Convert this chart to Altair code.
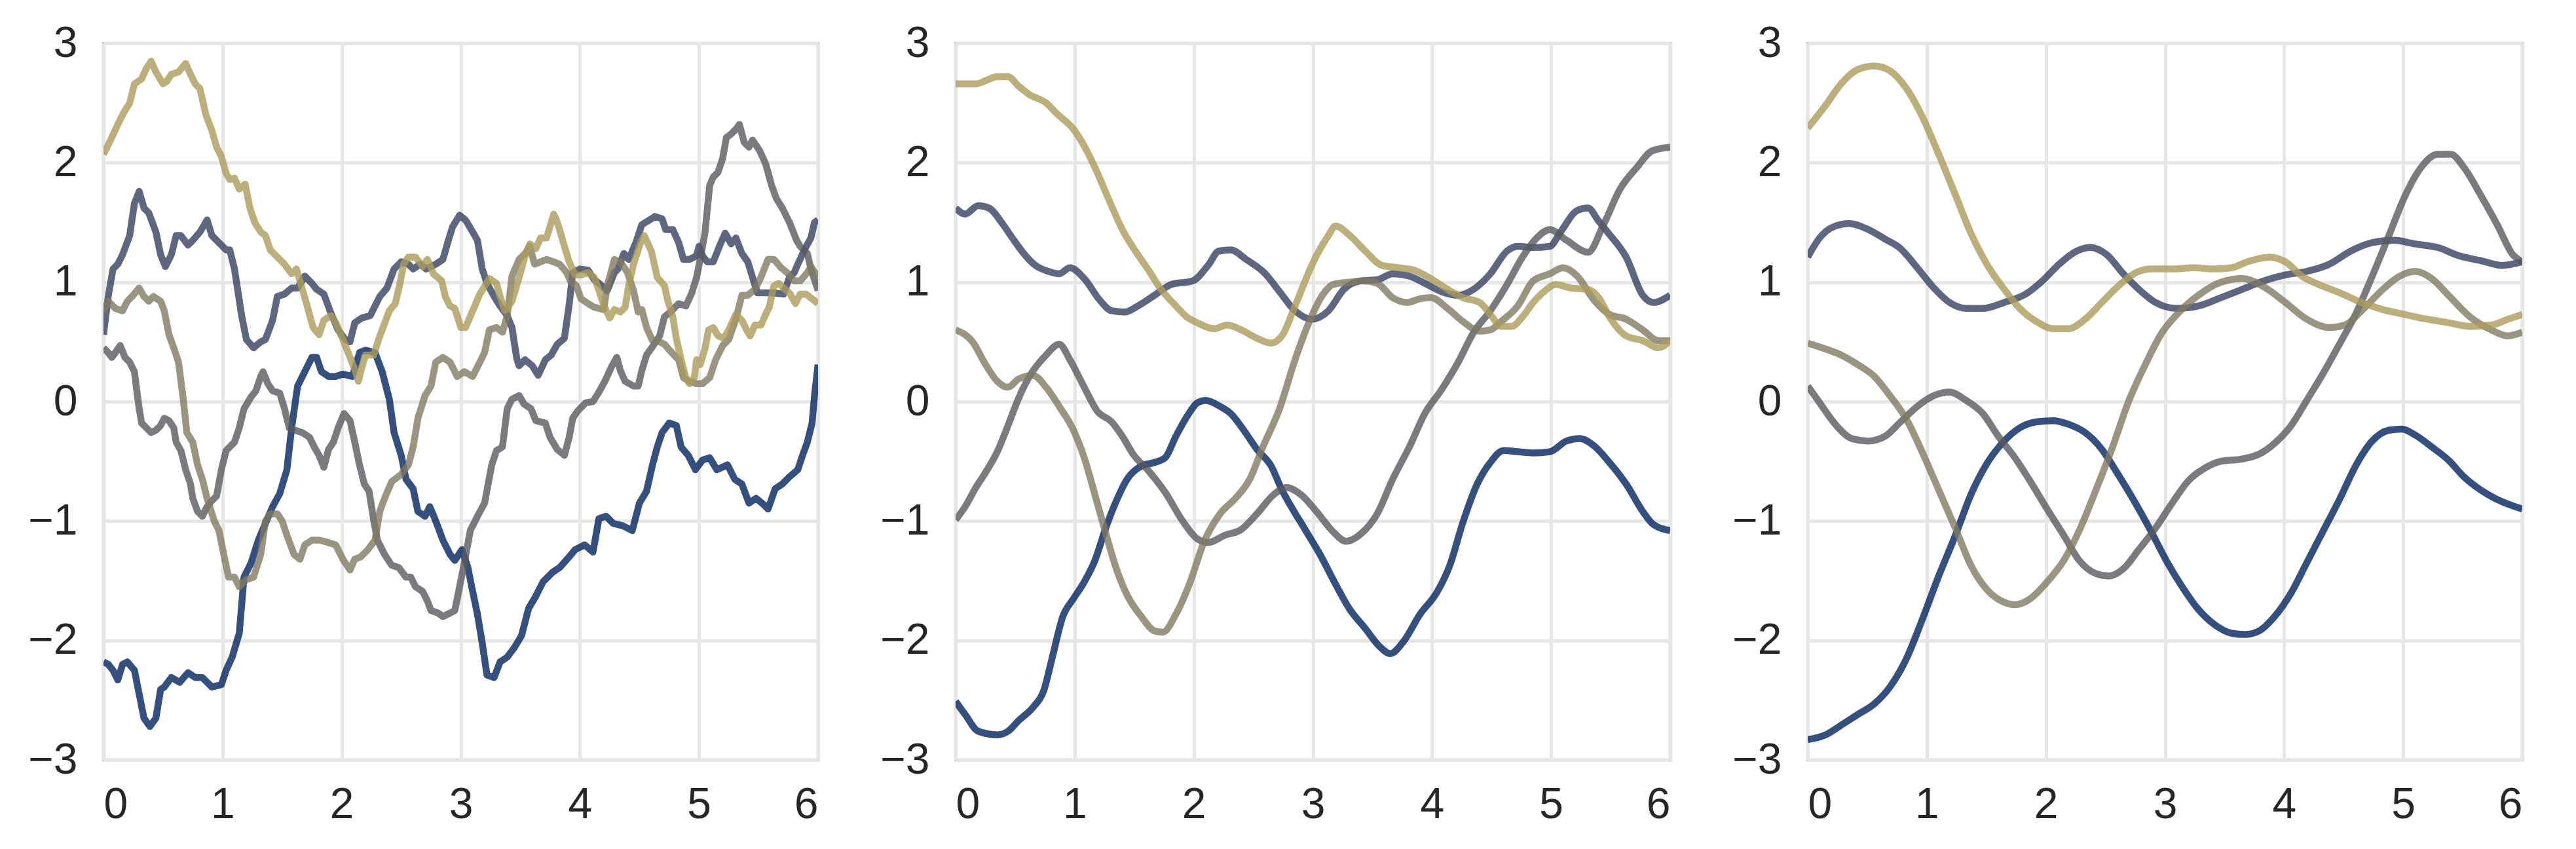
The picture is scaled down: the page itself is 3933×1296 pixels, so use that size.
import altair as alt
import pandas as pd

SERIES = ["blue", "slate", "gray", "taupe", "khaki"]
COLORS = ["#03245e", "#374160", "#595a5e", "#817963", "#aa9c5b"]
X_TICKS = [0, 1, 2, 3, 4, 5, 6]
Y_TICKS = [-3, -2, -1, 0, 1, 2, 3]

# ---------------- Panel 1 (rough samples) ----------------
p1_blue_x = [0, .04, .08, .12, .16, .20, .26, .30, .34, .39, .44, .48, .51, .57, .64, .71, .77, .83, .91, .99,
             1.03, 1.08, 1.14, 1.18, 1.24, 1.30, 1.36, 1.42, 1.48, 1.54, 1.58, 1.63, 1.69, 1.75, 1.79, 1.83, 1.89,
             1.95, 2.01, 2.09, 2.15, 2.20, 2.28, 2.34, 2.40, 2.44, 2.50, 2.54, 2.60, 2.64, 2.70, 2.74, 2.79, 2.85,
             2.91, 2.95, 3.01, 3.06, 3.10, 3.14, 3.18, 3.22, 3.28, 3.33, 3.39, 3.45, 3.51, 3.57, 3.63, 3.69, 3.77,
             3.83, 3.91, 3.96, 4.04, 4.11, 4.16, 4.22, 4.28, 4.36, 4.44, 4.50, 4.56, 4.61, 4.65, 4.69, 4.75, 4.81,
             4.85, 4.91, 4.97, 5.03, 5.09, 5.15, 5.24, 5.30, 5.36, 5.42, 5.48, 5.54, 5.58, 5.64, 5.70, 5.76, 5.83,
             5.87, 5.91, 5.95, 5.97, 6.0]
p1_blue_y = [-2.18, -2.20, -2.25, -2.33, -2.20, -2.18, -2.25, -2.45, -2.65, -2.72, -2.65, -2.41, -2.39, -2.31,
             -2.35, -2.27, -2.31, -2.31, -2.39, -2.37, -2.25, -2.14, -1.94, -1.47, -1.35, -1.16, -1.02, -0.88,
             -0.77, -0.57, -0.22, 0.13, 0.25, 0.37, 0.37, 0.25, 0.21, 0.21, 0.23, 0.21, 0.41, 0.43, 0.41, 0.25,
             0.02, -0.26, -0.45, -0.65, -0.73, -0.92, -0.96, -0.88, -1.00, -1.16, -1.28, -1.33, -1.24, -1.39,
             -1.59, -1.78, -2.02, -2.29, -2.31, -2.18, -2.14, -2.06, -1.96, -1.73, -1.63, -1.51, -1.43, -1.39,
             -1.30, -1.24, -1.20, -1.26, -0.98, -0.96, -1.02, -1.04, -1.08, -0.85, -0.75, -0.53, -0.38, -0.26,
             -0.18, -0.20, -0.38, -0.45, -0.57, -0.49, -0.47, -0.57, -0.53, -0.65, -0.69, -0.85, -0.81, -0.86,
             -0.90, -0.73, -0.69, -0.63, -0.57, -0.45, -0.34, -0.18, 0.05, 0.31]

p1_slate_x = [0, .04, .08, .12, .16, .22, .26, .30, .34, .38, .44, .48, .52, .57, .61, .65, .71, .75, .81, .87,
              .91, .97, 1.03, 1.06, 1.10, 1.16, 1.20, 1.26, 1.32, 1.36, 1.42, 1.46, 1.52, 1.58, 1.63, 1.69, 1.75,
              1.79, 1.85, 1.91, 1.97, 2.03, 2.07, 2.11, 2.17, 2.24, 2.28, 2.32, 2.38, 2.44, 2.50, 2.56, 2.60, 2.66,
              2.71, 2.79, 2.85, 2.89, 2.93, 2.99, 3.04, 3.10, 3.14, 3.18, 3.22, 3.28, 3.33, 3.39, 3.43, 3.47, 3.49,
              3.54, 3.60, 3.65, 3.71, 3.76, 3.81, 3.87, 3.91, 3.94, 4.00, 4.07, 4.12, 4.16, 4.23, 4.29, 4.32, 4.37,
              4.41, 4.47, 4.52, 4.60, 4.63, 4.69, 4.72, 4.78, 4.83, 4.87, 4.92, 4.98, 5.00, 5.03, 5.07, 5.12, 5.18,
              5.22, 5.27, 5.31, 5.36, 5.41, 5.45, 5.49, 5.54, 5.61, 5.71, 5.76, 5.80, 5.83, 5.89, 5.94, 5.97, 6.0]
p1_slate_y = [0.56, 0.88, 1.11, 1.15, 1.23, 1.39, 1.66, 1.76, 1.62, 1.58, 1.42, 1.23, 1.13, 1.23, 1.39, 1.39, 1.31,
              1.35, 1.42, 1.52, 1.39, 1.33, 1.27, 1.27, 1.11, 0.72, 0.52, 0.45, 0.50, 0.52, 0.68, 0.88, 0.90, 0.95,
              0.95, 1.05, 0.99, 0.94, 0.90, 0.74, 0.60, 0.52, 0.50, 0.66, 0.70, 0.72, 0.80, 0.88, 0.95, 1.11, 1.17,
              1.15, 1.11, 1.15, 1.11, 1.15, 1.19, 1.33, 1.46, 1.56, 1.52, 1.42, 1.35, 1.11, 0.99, 0.88, 0.80, 0.72,
              0.62, 0.36, 0.30, 0.35, 0.30, 0.22, 0.35, 0.39, 0.48, 0.53, 0.81, 1.08, 1.11, 1.10, 1.02, 0.99, 0.93,
              1.08, 1.11, 1.24, 1.19, 1.33, 1.48, 1.53, 1.55, 1.53, 1.44, 1.44, 1.33, 1.19, 1.19, 1.22, 1.30, 1.22,
              1.17, 1.17, 1.32, 1.41, 1.32, 1.37, 1.24, 1.17, 1.04, 0.91, 0.91, 0.91, 0.90, 1.04, 1.08, 1.15, 1.28,
              1.37, 1.50, 1.52]

p1_gray_x = [0, .04, .07, .10, .14, .18, .22, .26, .28, .30, .32, .36, .40, .44, .48, .51, .55, .59, .61, .65, .69,
             .73, .75, .79, .83, .87, .91, .95, .99, 1.03, 1.06, 1.10, 1.14, 1.18, 1.24, 1.28, 1.32, 1.34, 1.38,
             1.42, 1.48, 1.52, 1.56, 1.61, 1.67, 1.73, 1.77, 1.81, 1.85, 1.89, 1.93, 1.97, 2.02, 2.07, 2.11, 2.15,
             2.19, 2.23, 2.27, 2.30, 2.36, 2.42, 2.48, 2.54, 2.58, 2.62, 2.68, 2.72, 2.75, 2.81, 2.85, 2.91, 2.95,
             2.99, 3.03, 3.08, 3.14, 3.20, 3.26, 3.30, 3.35, 3.39, 3.43, 3.49, 3.53, 3.59, 3.63, 3.71, 3.75, 3.81,
             3.87, 3.91, 3.94, 3.98, 4.05, 4.11, 4.16, 4.21, 4.27, 4.31, 4.34, 4.38, 4.45, 4.49, 4.52, 4.56, 4.61,
             4.67, 4.71, 4.76, 4.83, 4.89, 4.94, 4.98, 5.01, 5.05, 5.09, 5.12, 5.16, 5.20, 5.23, 5.27, 5.31, 5.34,
             5.38, 5.42, 5.45, 5.51, 5.56, 5.61, 5.65, 5.70, 5.76, 5.82, 5.85, 5.91, 5.94, 6.0]
p1_gray_y = [0.45, 0.41, 0.37, 0.41, 0.47, 0.37, 0.33, 0.25, 0.09, -0.06, -0.18, -0.22, -0.26, -0.24, -0.20,
             -0.14, -0.16, -0.22, -0.34, -0.41, -0.57, -0.69, -0.81, -0.92, -0.96, -0.88, -0.83, -0.79, -0.57,
             -0.41, -0.38, -0.34, -0.22, -0.06, 0.04, 0.09, 0.21, 0.25, 0.15, 0.09, 0.07, -0.06, -0.22, -0.24,
             -0.26, -0.30, -0.38, -0.45, -0.55, -0.40, -0.34, -0.22, -0.10, -0.16, -0.34, -0.53, -0.69, -0.75,
             -1.00, -1.16, -1.28, -1.37, -1.39, -1.47, -1.47, -1.55, -1.59, -1.67, -1.75, -1.77, -1.80, -1.77,
             -1.75, -1.55, -1.35, -1.08, -0.96, -0.85, -0.53, -0.41, -0.38, -0.06, 0.02, 0.05, -0.02, -0.06,
             -0.16, -0.18, -0.30, -0.40, -0.45, -0.30, -0.14, -0.08, -0.01, 0.00, 0.08, 0.17, 0.30, 0.37, 0.26,
             0.17, 0.13, 0.13, 0.26, 0.39, 0.46, 0.55, 0.71, 0.75, 0.82, 0.80, 0.91, 1.04, 1.19, 1.41, 1.81, 1.88,
             1.92, 2.04, 2.21, 2.24, 2.28, 2.32, 2.17, 2.13, 2.19, 2.10, 1.99, 1.81, 1.70, 1.62, 1.50, 1.35, 1.30,
             1.24, 1.11, 0.93]

p1_taupe_x = [0, .04, .10, .16, .20, .24, .30, .34, .38, .42, .48, .51, .55, .59, .63, .67, .70, .75, .79, .83,
              .87, .93, .97, 1.01, 1.05, 1.10, 1.14, 1.20, 1.26, 1.32, 1.36, 1.40, 1.46, 1.50, 1.54, 1.60, 1.65,
              1.69, 1.75, 1.81, 1.89, 1.95, 2.01, 2.07, 2.11, 2.16, 2.22, 2.28, 2.32, 2.36, 2.42, 2.50, 2.56, 2.60,
              2.64, 2.70, 2.75, 2.79, 2.85, 2.91, 2.97, 3.03, 3.10, 3.16, 3.20, 3.24, 3.30, 3.35, 3.39, 3.43, 3.49,
              3.54, 3.58, 3.62, 3.67, 3.72, 3.78, 3.83, 3.89, 3.92, 3.97, 4.01, 4.07, 4.12, 4.20, 4.23, 4.29, 4.34,
              4.40, 4.45, 4.49, 4.52, 4.56, 4.61, 4.67, 4.71, 4.78, 4.83, 4.87, 4.92, 4.98, 5.03, 5.09, 5.14, 5.20,
              5.25, 5.31, 5.36, 5.41, 5.47, 5.52, 5.58, 5.63, 5.69, 5.74, 5.80, 5.85, 5.91, 5.94, 6.0]
p1_taupe_y = [0.76, 0.84, 0.78, 0.76, 0.84, 0.88, 0.95, 0.88, 0.84, 0.88, 0.84, 0.76, 0.56, 0.45, 0.33, 0.02,
              -0.26, -0.34, -0.53, -0.65, -0.81, -1.00, -1.08, -1.28, -1.47, -1.47, -1.55, -1.49, -1.47, -1.28,
              -1.00, -0.94, -0.94, -1.00, -1.12, -1.28, -1.32, -1.20, -1.16, -1.16, -1.18, -1.20, -1.32, -1.41,
              -1.32, -1.30, -1.24, -1.16, -0.92, -0.81, -0.67, -0.61, -0.53, -0.38, -0.14, 0.05, 0.13, 0.33, 0.37,
              0.33, 0.21, 0.25, 0.21, 0.33, 0.41, 0.60, 0.62, 0.58, 0.72, 1.05, 1.19, 1.24, 1.30, 1.15, 1.17, 1.19,
              1.17, 1.15, 1.08, 1.01, 0.97, 0.86, 0.82, 0.79, 0.77, 0.97, 1.19, 1.17, 1.08, 0.93, 0.75, 0.77, 0.62,
              0.51, 0.50, 0.48, 0.40, 0.35, 0.20, 0.17, 0.15, 0.15, 0.20, 0.35, 0.47, 0.52, 0.69, 0.89, 0.89, 0.94,
              1.04, 1.19, 1.19, 1.12, 1.08, 1.01, 1.01, 1.08, 1.13, 1.04]

p1_khaki_x = [0, .06, .12, .17, .22, .26, .32, .36, .40, .44, .50, .53, .57, .63, .69, .73, .77, .81, .86, .91,
              .95, .99, 1.03, 1.06, 1.10, 1.14, 1.19, 1.23, 1.27, 1.32, 1.36, 1.40, 1.46, 1.52, 1.58, 1.62, 1.67,
              1.71, 1.76, 1.81, 1.85, 1.91, 1.95, 2.01, 2.07, 2.11, 2.14, 2.17, 2.20, 2.27, 2.31, 2.34, 2.40, 2.45,
              2.49, 2.52, 2.56, 2.62, 2.68, 2.72, 2.77, 2.84, 2.87, 2.91, 2.95, 3.0, 3.04, 3.10, 3.16, 3.24, 3.30,
              3.33, 3.37, 3.43, 3.49, 3.54, 3.58, 3.63, 3.67, 3.72, 3.76, 3.78, 3.80, 3.83, 3.87, 3.91, 3.96, 4.01,
              4.07, 4.12, 4.16, 4.20, 4.25, 4.29, 4.34, 4.38, 4.41, 4.45, 4.51, 4.54, 4.60, 4.65, 4.71, 4.74, 4.78,
              4.81, 4.85, 4.89, 4.92, 4.96, 4.98, 5.01, 5.05, 5.08, 5.12, 5.16, 5.21, 5.25, 5.31, 5.36, 5.40, 5.43,
              5.47, 5.52, 5.56, 5.59, 5.63, 5.67, 5.71, 5.76, 5.81, 5.85, 5.90, 6.0]
p1_khaki_y = [2.07, 2.19, 2.32, 2.42, 2.50, 2.66, 2.70, 2.79, 2.85, 2.76, 2.66, 2.68, 2.74, 2.76, 2.83, 2.74, 2.66,
              2.62, 2.40, 2.27, 2.13, 2.05, 1.91, 1.86, 1.87, 1.78, 1.82, 1.62, 1.50, 1.42, 1.39, 1.27, 1.21, 1.15,
              1.07, 1.11, 0.94, 0.80, 0.62, 0.56, 0.68, 0.72, 0.66, 0.52, 0.37, 0.27, 0.17, 0.29, 0.39, 0.39, 0.52,
              0.60, 0.76, 0.82, 0.99, 1.15, 1.21, 1.21, 1.13, 1.19, 1.07, 1.01, 0.88, 0.80, 0.78, 0.62, 0.62, 0.76,
              0.90, 1.03, 0.99, 0.88, 0.76, 0.84, 1.04, 1.22, 1.32, 1.28, 1.37, 1.37, 1.50, 1.57, 1.53, 1.44, 1.30,
              1.17, 1.06, 1.06, 1.08, 1.04, 0.93, 0.81, 0.70, 0.77, 0.75, 0.79, 0.97, 1.15, 1.33, 1.39, 1.26, 1.04,
              0.97, 0.84, 0.71, 0.53, 0.35, 0.20, 0.15, 0.20, 0.35, 0.31, 0.44, 0.60, 0.62, 0.55, 0.53, 0.60, 0.73,
              0.68, 0.60, 0.55, 0.64, 0.64, 0.73, 0.79, 0.97, 0.99, 0.95, 0.91, 0.82, 0.90, 0.90, 0.82]

# ---------------- Panel 2 (medium smooth samples) ----------------
p2_blue_x = [0, .08, .19, .35, .44, .53, .65, .74, .81, .90, .99, 1.08, 1.17, 1.26, 1.35, 1.44, 1.56, 1.67, 1.76,
             1.85, 1.94, 2.03, 2.10, 2.22, 2.31, 2.42, 2.53, 2.65, 2.74, 2.83, 2.94, 3.06, 3.17, 3.31, 3.44, 3.56,
             3.65, 3.76, 3.90, 4.04, 4.15, 4.26, 4.38, 4.49, 4.60, 4.72, 4.85, 4.99, 5.13, 5.24, 5.36, 5.49, 5.63,
             5.77, 5.86, 6.0]
p2_blue_y = [-2.51, -2.62, -2.76, -2.79, -2.76, -2.67, -2.56, -2.42, -2.15, -1.80, -1.65, -1.51, -1.33, -1.06,
             -0.83, -0.65, -0.54, -0.51, -0.47, -0.29, -0.13, -0.01, 0.01, -0.04, -0.10, -0.24, -0.40, -0.54,
             -0.74, -0.90, -1.08, -1.28, -1.49, -1.74, -1.90, -2.05, -2.11, -2.01, -1.78, -1.60, -1.37, -1.01,
             -0.69, -0.51, -0.41, -0.42, -0.43, -0.42, -0.33, -0.31, -0.37, -0.51, -0.69, -0.92, -1.03, -1.08]

p2_slate_x = [0, .08, .19, .28, .40, .49, .58, .67, .78, .87, .96, 1.08, 1.21, 1.31, 1.42, 1.53, 1.67, 1.81, 1.99,
              2.12, 2.21, 2.31, 2.44, 2.60, 2.72, 2.85, 2.99, 3.13, 3.26, 3.40, 3.54, 3.67, 3.81, 3.94, 4.08, 4.22,
              4.35, 4.49, 4.63, 4.72, 4.85, 4.99, 5.08, 5.22, 5.31, 5.40, 5.49, 5.63, 5.77, 5.86, 6.0]
p2_slate_y = [1.62, 1.57, 1.64, 1.62, 1.48, 1.35, 1.23, 1.14, 1.09, 1.07, 1.12, 1.03, 0.85, 0.76, 0.75, 0.80, 0.89,
              0.98, 1.01, 1.14, 1.26, 1.27, 1.19, 1.07, 0.92, 0.76, 0.69, 0.76, 0.94, 1.01, 1.02, 1.07, 1.05, 0.99,
              0.92, 0.89, 0.94, 1.07, 1.26, 1.30, 1.29, 1.30, 1.42, 1.60, 1.62, 1.51, 1.40, 1.21, 0.89, 0.83, 0.89]

p2_gray_x = [0, .08, .17, .26, .35, .44, .53, .62, .76, .87, .96, 1.08, 1.19, 1.31, 1.40, 1.49, 1.62, 1.76, 1.90,
             2.03, 2.12, 2.26, 2.40, 2.53, 2.67, 2.78, 2.90, 3.03, 3.17, 3.28, 3.40, 3.54, 3.67, 3.81, 3.94, 4.08,
             4.22, 4.35, 4.49, 4.63, 4.76, 4.88, 4.99, 5.13, 5.31, 5.44, 5.58, 5.72, 5.85, 6.0]
p2_gray_y = [-0.99, -0.88, -0.72, -0.58, -0.42, -0.20, 0.03, 0.21, 0.39, 0.48, 0.35, 0.12, -0.08, -0.17, -0.29,
             -0.44, -0.58, -0.76, -0.99, -1.15, -1.18, -1.12, -1.07, -0.94, -0.78, -0.72, -0.78, -0.92, -1.09,
             -1.17, -1.11, -0.94, -0.65, -0.38, -0.10, 0.10, 0.33, 0.58, 0.76, 0.98, 1.21, 1.37, 1.44, 1.35, 1.25,
             1.48, 1.78, 1.96, 2.10, 2.13]

p2_taupe_x = [0, .15, .24, .35, .44, .53, .65, .76, .87, .99, 1.08, 1.17, 1.26, 1.35, 1.44, 1.56, 1.67, 1.74,
              1.85, 1.97, 2.08, 2.22, 2.35, 2.47, 2.58, 2.72, 2.85, 2.97, 3.08, 3.17, 3.31, 3.42, 3.54, 3.67, 3.79,
              3.90, 3.99, 4.13, 4.26, 4.40, 4.49, 4.58, 4.72, 4.85, 4.99, 5.10, 5.22, 5.36, 5.49, 5.63, 5.77, 5.90,
              6.0]
p2_taupe_y = [0.60, 0.49, 0.33, 0.17, 0.12, 0.19, 0.22, 0.12, -0.04, -0.24, -0.47, -0.78, -1.10, -1.40, -1.62,
              -1.80, -1.92, -1.93, -1.78, -1.51, -1.19, -0.94, -0.81, -0.65, -0.38, -0.06, 0.35, 0.67, 0.89, 0.98,
              1.00, 1.01, 0.99, 0.87, 0.83, 0.86, 0.87, 0.78, 0.67, 0.59, 0.60, 0.67, 0.80, 1.01, 1.07, 1.12, 1.05,
              0.85, 0.73, 0.69, 0.60, 0.51, 0.51]

p2_khaki_x = [0, .17, .26, .35, .44, .53, .62, .76, .85, .99, 1.08, 1.17, 1.30, 1.40, 1.53, 1.62, 1.71, 1.85, 1.94,
              2.03, 2.17, 2.28, 2.40, 2.53, 2.65, 2.74, 2.85, 2.99, 3.13, 3.19, 3.31, 3.44, 3.58, 3.72, 3.85, 3.99,
              4.13, 4.26, 4.40, 4.49, 4.58, 4.67, 4.76, 4.85, 4.94, 5.04, 5.17, 5.31, 5.40, 5.49, 5.63, 5.77, 5.90,
              6.0]
p2_khaki_y = [2.66, 2.66, 2.69, 2.72, 2.72, 2.64, 2.57, 2.50, 2.41, 2.28, 2.14, 1.96, 1.66, 1.44, 1.23, 1.10, 0.96,
              0.80, 0.71, 0.66, 0.61, 0.64, 0.60, 0.53, 0.49, 0.55, 0.80, 1.14, 1.39, 1.47, 1.39, 1.26, 1.14, 1.12,
              1.10, 1.03, 0.94, 0.87, 0.83, 0.73, 0.63, 0.63, 0.71, 0.83, 0.92, 0.98, 0.95, 0.94, 0.87, 0.71, 0.55,
              0.51, 0.45, 0.51]

# ---------------- Panel 3 (very smooth samples) ----------------
p3_blue_x = [0, .15, .28, .42, .56, .69, .83, .96, 1.10, 1.24, 1.37, 1.51, 1.65, 1.78, 1.92, 2.06, 2.19, 2.33,
             2.47, 2.60, 2.74, 2.88, 3.01, 3.15, 3.28, 3.42, 3.56, 3.67, 3.79, 3.92, 4.06, 4.19, 4.33, 4.47, 4.60,
             4.74, 4.88, 4.99, 5.10, 5.24, 5.38, 5.51, 5.65, 5.79, 6.0]
p3_blue_y = [-2.83, -2.79, -2.71, -2.62, -2.53, -2.39, -2.15, -1.83, -1.46, -1.12, -0.78, -0.51, -0.33, -0.22,
             -0.17, -0.16, -0.19, -0.26, -0.40, -0.60, -0.83, -1.08, -1.33, -1.56, -1.74, -1.87, -1.94, -1.95,
             -1.92, -1.80, -1.60, -1.35, -1.08, -0.81, -0.54, -0.33, -0.24, -0.23, -0.28, -0.38, -0.49, -0.63,
             -0.74, -0.82, -0.90]

p3_slate_x = [0, .10, .21, .35, .51, .65, .78, .92, 1.06, 1.19, 1.33, 1.47, 1.65, 1.83, 1.97, 2.10, 2.24, 2.37,
              2.51, 2.65, 2.78, 2.92, 3.10, 3.28, 3.47, 3.65, 3.83, 4.01, 4.19, 4.38, 4.56, 4.74, 4.92, 5.10, 5.29,
              5.47, 5.65, 5.83, 6.0]
p3_slate_y = [1.21, 1.37, 1.46, 1.49, 1.44, 1.36, 1.28, 1.12, 0.95, 0.83, 0.78, 0.78, 0.83, 0.90, 1.01, 1.14,
              1.25, 1.29, 1.23, 1.07, 0.94, 0.83, 0.78, 0.80, 0.87, 0.94, 1.01, 1.06, 1.09, 1.15, 1.26, 1.33, 1.35,
              1.32, 1.29, 1.22, 1.18, 1.14, 1.17]

p3_gray_x = [0, .10, .24, .37, .51, .65, .78, .92, 1.06, 1.19, 1.33, 1.47, 1.60, 1.74, 1.87, 2.01, 2.15, 2.28,
             2.42, 2.53, 2.65, 2.78, 2.92, 3.06, 3.19, 3.33, 3.47, 3.65, 3.79, 3.92, 4.06, 4.19, 4.33, 4.47, 4.60,
             4.74, 4.88, 5.01, 5.15, 5.29, 5.40, 5.51, 5.65, 5.79, 5.92, 6.0]
p3_gray_y = [0.13, -0.01, -0.20, -0.31, -0.33, -0.29, -0.17, -0.04, 0.05, 0.08, 0.01, -0.10, -0.29, -0.47, -0.67,
             -0.90, -1.12, -1.33, -1.44, -1.46, -1.40, -1.24, -1.06, -0.85, -0.67, -0.56, -0.50, -0.48, -0.44,
             -0.35, -0.20, 0.01, 0.24, 0.49, 0.73, 1.05, 1.39, 1.71, 1.96, 2.07, 2.07, 1.96, 1.73, 1.48, 1.23, 1.17]

p3_taupe_x = [0, .15, .28, .42, .56, .69, .83, .96, 1.10, 1.24, 1.37, 1.51, 1.65, 1.74, 1.87, 2.01, 2.15, 2.28,
              2.42, 2.56, 2.69, 2.83, 2.97, 3.10, 3.28, 3.47, 3.65, 3.83, 4.01, 4.19, 4.38, 4.51, 4.65, 4.83, 4.97,
              5.10, 5.24, 5.38, 5.56, 5.74, 5.88, 6.0]
p3_taupe_y = [0.49, 0.44, 0.39, 0.31, 0.21, 0.05, -0.15, -0.42, -0.74, -1.06, -1.37, -1.58, -1.68, -1.70, -1.65,
              -1.51, -1.33, -1.08, -0.74, -0.38, -0.01, 0.30, 0.57, 0.73, 0.89, 1.00, 1.03, 0.96, 0.83, 0.69, 0.62,
              0.64, 0.76, 0.94, 1.05, 1.09, 1.03, 0.89, 0.71, 0.60, 0.55, 0.58]

p3_khaki_x = [0, .15, .28, .42, .56, .69, .83, .96, 1.10, 1.24, 1.37, 1.51, 1.65, 1.78, 1.92, 2.06, 2.19, 2.33,
              2.47, 2.60, 2.74, 2.88, 3.06, 3.24, 3.42, 3.56, 3.69, 3.88, 4.01, 4.15, 4.29, 4.47, 4.65, 4.83, 5.01,
              5.20, 5.38, 5.56, 5.74, 5.88, 6.0]
p3_khaki_y = [2.29, 2.48, 2.66, 2.78, 2.81, 2.77, 2.62, 2.39, 2.07, 1.73, 1.41, 1.14, 0.94, 0.78, 0.67, 0.61,
              0.61, 0.69, 0.83, 0.96, 1.07, 1.11, 1.11, 1.12, 1.11, 1.12, 1.17, 1.21, 1.17, 1.05, 0.98, 0.91, 0.83,
              0.77, 0.73, 0.69, 0.66, 0.63, 0.64, 0.69, 0.73]

PANELS = [
    ("linear", [(p1_blue_x, p1_blue_y), (p1_slate_x, p1_slate_y), (p1_gray_x, p1_gray_y),
                (p1_taupe_x, p1_taupe_y), (p1_khaki_x, p1_khaki_y)]),
    ("monotone", [(p2_blue_x, p2_blue_y), (p2_slate_x, p2_slate_y), (p2_gray_x, p2_gray_y),
                  (p2_taupe_x, p2_taupe_y), (p2_khaki_x, p2_khaki_y)]),
    ("monotone", [(p3_blue_x, p3_blue_y), (p3_slate_x, p3_slate_y), (p3_gray_x, p3_gray_y),
                  (p3_taupe_x, p3_taupe_y), (p3_khaki_x, p3_khaki_y)]),
]


def make_panel(interp, series):
    rows = []
    for k, (name, (xs, ys)) in enumerate(zip(SERIES, series)):
        for i, (xv, yv) in enumerate(zip(xs, ys)):
            rows.append({"x": xv, "y": yv, "s": name, "k": k, "i": i})
    df = pd.DataFrame(rows)
    return alt.Chart(df).mark_line(
        strokeWidth=10.5, strokeOpacity=0.8, interpolate=interp, clip=True,
        strokeCap="butt", strokeJoin="round"
    ).encode(
        x=alt.X("x:Q", scale=alt.Scale(domain=[0, 6], nice=False, zero=False),
                axis=alt.Axis(values=X_TICKS, title=None, labelPadding=36, format="d")),
        y=alt.Y("y:Q", scale=alt.Scale(domain=[-3, 3], nice=False, zero=False),
                axis=alt.Axis(values=Y_TICKS, title=None, labelPadding=40, format="d")),
        color=alt.Color("s:N", scale=alt.Scale(domain=SERIES, range=COLORS), legend=None),
        order=alt.Order("i:Q"),
    ).properties(width=1091, height=1094)


panels = [make_panel(interp, series) for interp, series in PANELS]

chart = alt.hconcat(*panels, spacing=89).properties(
    padding={"left": 32, "top": 22, "right": 5, "bottom": 5},
    background="white",
).configure_axis(
    labelFont="Liberation Sans",
    labelFontSize=66,
    labelColor="#262626",
    ticks=False,
    tickSize=0,
    domain=False,
    grid=True,
    gridColor="#e6e6e6",
    gridWidth=5,
).configure_view(
    stroke="#cccccc",
    strokeWidth=4.7,
)

chart.save("out.html", embed_options={"renderer": "svg", "actions": False})
